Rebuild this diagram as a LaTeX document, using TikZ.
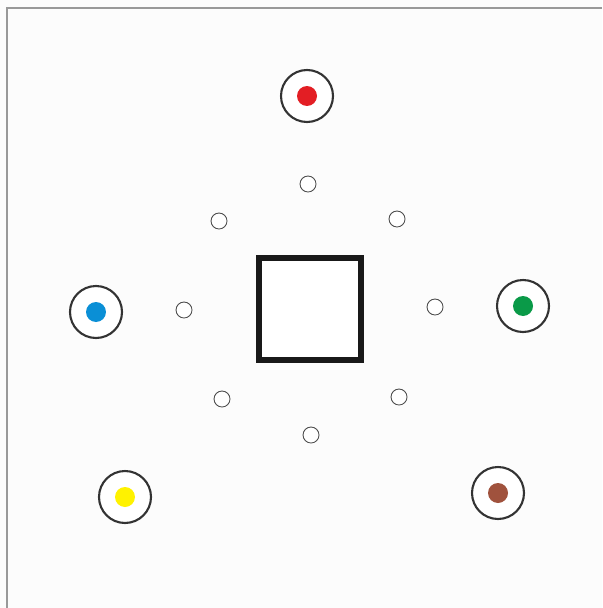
\documentclass[tikz,border=0pt]{standalone}
\usepackage{tikz}
\usetikzlibrary{positioning}

\definecolor{spotred}{HTML}{E31E24}
\definecolor{spotblue}{HTML}{0A8FD6}
\definecolor{spotgreen}{HTML}{0A9A48}
\definecolor{spotyellow}{HTML}{FFF200}
\definecolor{spotbrown}{HTML}{A0523D}

\begin{document}
\begin{tikzpicture}[
  x=0.02cm, y=-0.02cm,
  ring/.style={circle,draw=black!80,line width=1.2pt,fill=white,inner sep=0pt,minimum size=1.04cm},
  spot/.style={circle,fill=#1,draw=none,inner sep=0pt,minimum size=0.4cm},
  marker/.style={circle,draw=black!70,line width=0.5pt,fill=white,inner sep=0pt,minimum size=0.32cm}
]
\useasboundingbox (0,0) rectangle (602,608);
\fill[black!1] (0,0) rectangle (602,608);

% frame edges (top and left)
\draw[black!40,line width=1.2pt] (7,608) -- (7,8) -- (602,8);

% centre box
\node[draw=black!90,line width=3.2pt,minimum size=2.04cm,inner sep=0pt,fill=white] (box) at (310,309) {};

% outer coloured targets
\foreach \name/\x/\y/\col in {red/307/96/spotred, blue/96/312/spotblue,
  green/523/306/spotgreen, yellow/125/497/spotyellow, brown/498/493/spotbrown} {
  \node[ring] (\name) at (\x,\y) {};
  \node[spot=\col] (\name dot) at (\name) {};
}

% small markers round the box
\foreach \i/\x/\y in {1/308/184, 2/397/219, 3/435/307, 4/399/397,
  5/311/435, 6/222/399, 7/184/310, 8/219/221} {
  \node[marker] (m\i) at (\x,\y) {};
}

\end{tikzpicture}
\end{document}
